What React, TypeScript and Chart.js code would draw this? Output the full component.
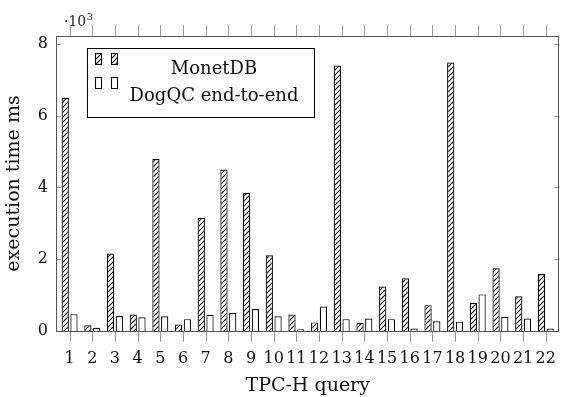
import React, { useEffect, useRef } from "react";
import { Chart, registerables } from "chart.js";

Chart.register(...registerables);

const queries = [1, 2, 3, 4, 5, 6, 7, 8, 9, 10, 11, 12, 13, 14, 15, 16, 17, 18, 19, 20, 21, 22];
const monetdb = [6500, 160, 2160, 460, 4790, 180, 3150, 4500, 3850, 2110, 460, 240, 7400, 230, 1240, 1470, 720, 7480, 780, 1750, 970, 1590];
const dogqc = [470, 90, 420, 380, 410, 330, 450, 500, 610, 410, 50, 680, 330, 350, 330, 70, 270, 260, 1020, 390, 350, 70];
const yTickValues = [0, 2000, 4000, 6000, 8000];
const seriesNames = ["MonetDB", "DogQC end-to-end"];

const FONT = "'DejaVu Serif', serif";

function makeHatch(ctx: CanvasRenderingContext2D): CanvasPattern | string {
  const n = 5;
  const c = document.createElement("canvas");
  c.width = n;
  c.height = n;
  const g = c.getContext("2d");
  if (!g) return "#888";
  g.fillStyle = "#ffffff";
  g.fillRect(0, 0, n, n);
  g.strokeStyle = "#000000";
  g.lineWidth = 1.1;
  g.beginPath();
  g.moveTo(0, n);
  g.lineTo(n, 0);
  g.moveTo(-1, 1);
  g.lineTo(1, -1);
  g.moveTo(n - 1, n + 1);
  g.lineTo(n + 1, n - 1);
  g.stroke();
  return ctx.createPattern(c, "repeat") || "#888";
}

export default function App() {
  const ref = useRef<HTMLCanvasElement | null>(null);

  useEffect(() => {
    const canvas = ref.current;
    if (!canvas) return;
    const ctx = canvas.getContext("2d");
    if (!ctx) return;
    const hatch = makeHatch(ctx);

    const framePlugin = {
      id: "frameTicks",
      afterDraw(chart: any) {
        const c = chart.ctx as CanvasRenderingContext2D;
        const { left, right, top, bottom } = chart.chartArea;
        const xs = chart.scales.x;
        const ys = chart.scales.y;
        c.save();
        c.lineWidth = 1;
        c.strokeStyle = "#999999";
        c.beginPath();
        for (const v of yTickValues) {
          const y = Math.round(ys.getPixelForValue(v)) + 0.5;
          c.moveTo(left, y);
          c.lineTo(left + 5, y);
          c.moveTo(right - 5, y);
          c.lineTo(right, y);
        }
        for (const q of queries) {
          const x = Math.round(xs.getPixelForValue(q)) + 0.5;
          c.moveTo(x, bottom);
          c.lineTo(x, bottom + 11);
          c.moveTo(x, top);
          c.lineTo(x, top - 11);
        }
        c.stroke();
        c.strokeStyle = "#555555";
        c.strokeRect(Math.round(left) + 0.5, Math.round(top) + 0.5, Math.round(right - left) - 1, Math.round(bottom - top));
        c.fillStyle = "#222222";
        c.textBaseline = "alphabetic";
        c.textAlign = "left";
        c.font = `14px ${FONT}`;
        c.fillText("·10", 64, 26);
        const w = c.measureText("·10").width;
        c.font = `10px ${FONT}`;
        c.fillText("3", 64 + w + 0.5, 20);
        const lx = 87, ly = 48, lw = 227, lh = 69;
        c.fillStyle = "#ffffff";
        c.fillRect(lx, ly, lw, lh);
        c.strokeStyle = "#000000";
        c.strokeRect(lx + 0.5, ly + 0.5, lw, lh);
        const sw = [
          { x: 95, y: 53, fill: hatch },
          { x: 111, y: 53, fill: hatch },
          { x: 95, y: 77, fill: "#ffffff" },
          { x: 111, y: 77, fill: "#ffffff" },
        ];
        for (const s of sw) {
          c.fillStyle = s.fill as any;
          c.fillRect(s.x, s.y, 6, 11);
          c.strokeStyle = "#000000";
          c.strokeRect(s.x + 0.5, s.y + 0.5, 6, 11);
        }
        c.fillStyle = "#111111";
        c.font = `18px ${FONT}`;
        c.textAlign = "center";
        c.fillText(seriesNames[0], 214, 74);
        c.fillText(seriesNames[1], 214, 101);
        c.restore();
      },
    };

    const chart = new Chart(ctx, {
      type: "bar",
      data: {
        datasets: [
          {
            label: seriesNames[0],
            data: queries.map((q, i) => ({ x: q, y: monetdb[i] })),
            backgroundColor: hatch as any,
            borderColor: "#000000",
            borderWidth: 1.2,
            categoryPercentage: 0.77,
            barPercentage: 0.83,
          },
          {
            label: seriesNames[1],
            data: queries.map((q, i) => ({ x: q, y: dogqc[i] })),
            backgroundColor: "#ffffff",
            borderColor: "#000000",
            borderWidth: 1.2,
            categoryPercentage: 0.77,
            barPercentage: 0.83,
          },
        ],
      },
      options: {
        responsive: false,
        animation: false,
        devicePixelRatio: 1,
        layout: { padding: { top: 36, right: 1, left: 0, bottom: 0 } },
        plugins: { legend: { display: false }, tooltip: { enabled: false } },
        scales: {
          x: {
            type: "linear",
            offset: false,
            min: 0.4,
            max: 22.6,
            grid: { display: false, drawTicks: false, offset: false },
            border: { display: false },
            afterBuildTicks: (scale: any) => {
              scale.ticks = queries.map((q) => ({ value: q }));
            },
            afterFit: (scale: any) => {
              scale.height = 66;
            },
            ticks: {
              autoSkip: false,
              maxRotation: 0,
              padding: 18,
              color: "#111111",
              font: { family: FONT, size: 16 },
              callback: (v: any) => String(v),
            },
            title: {
              display: true,
              text: "TPC-H query",
              color: "#111111",
              font: { family: FONT, size: 19 },
              padding: { top: 0, bottom: 0 },
            },
          },
          y: {
            min: 0,
            max: 8220,
            grid: { display: false, drawTicks: false },
            border: { display: false },
            afterBuildTicks: (scale: any) => {
              scale.ticks = yTickValues.map((v) => ({ value: v }));
            },
            afterFit: (scale: any) => {
              scale.width = 56;
            },
            ticks: {
              padding: 8,
              color: "#111111",
              font: { family: FONT, size: 16 },
              callback: (v: any) => String(Number(v) / 1000),
            },
            title: {
              display: true,
              text: "execution time ms",
              color: "#111111",
              font: { family: FONT, size: 19 },
              padding: { top: 3, bottom: 3 },
            },
          },
        },
      },
      plugins: [framePlugin],
    });

    return () => chart.destroy();
  }, []);

  return (
    <div style={{ position: "absolute", left: 0, top: 0, width: 574, height: 397, background: "#ffffff" }}>
      <canvas ref={ref} width={574} height={397} style={{ display: "block" }} />
    </div>
  );
}
